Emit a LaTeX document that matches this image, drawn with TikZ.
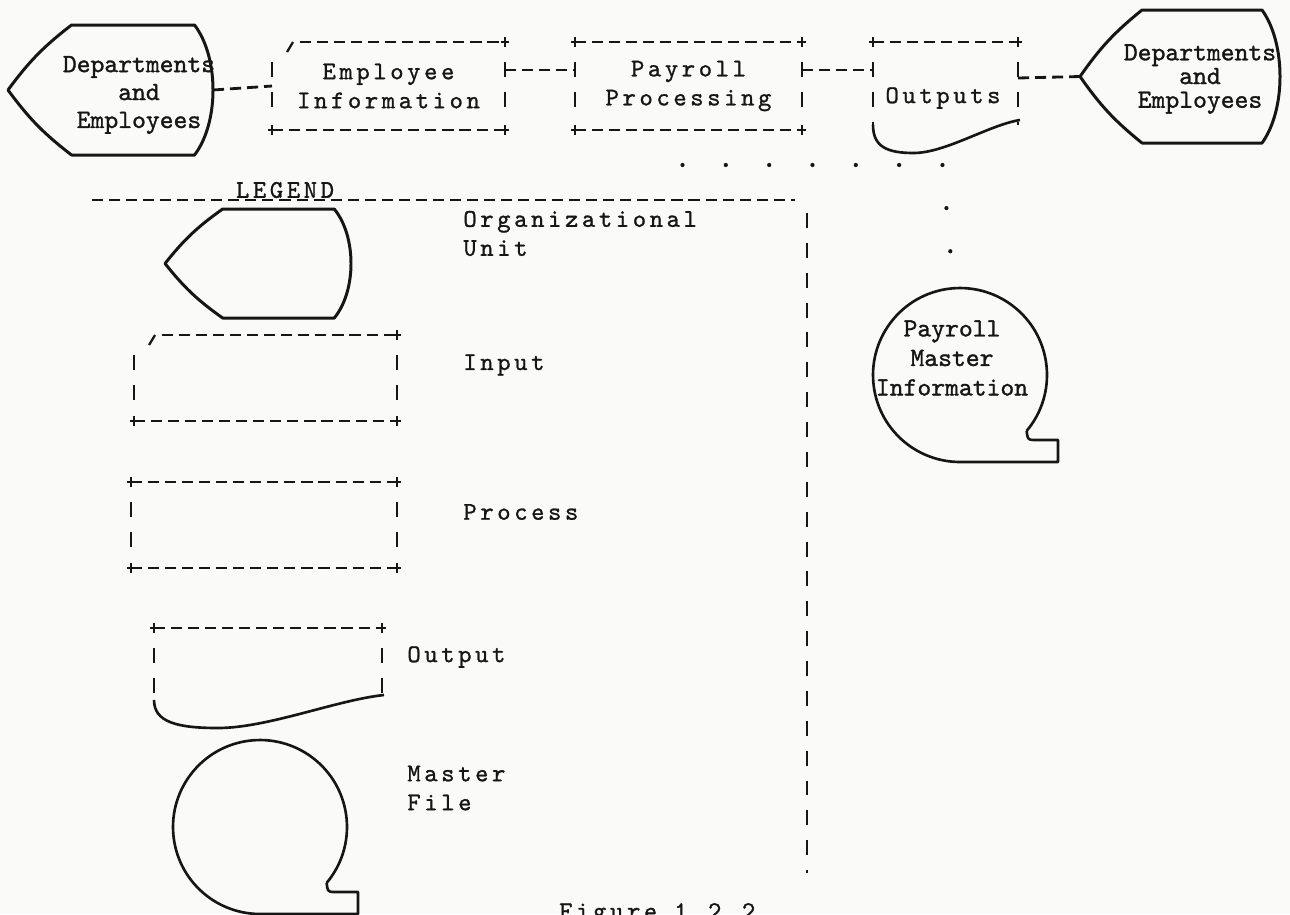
\documentclass[tikz,border=0pt]{standalone}
\usepackage{fontspec}
\usepackage{tikz}
\usetikzlibrary{calc}
\definecolor{ink}{RGB}{22,22,22}
\definecolor{paper}{RGB}{250,250,248}
\newfontfamily\boxface[LetterSpace=14, FakeBold=1]{lmmono10-regular.otf}
\newfontfamily\unitface[FakeBold=1.2]{lmmono10-regular.otf}
\newcommand\boxfont{\boxface\fontsize{14.5}{16.5}\selectfont}
\newcommand\unitfont[1]{\unitface\fontsize{15}{#1}\selectfont}
\tikzset{
    outline/.style = {ink, line width = 1.7pt, line join = round},
    hline/.style = {ink, line width = 1.6pt, dash pattern = on 6.3pt off 3.4pt},
    vline/.style = {ink, line width = 1.4pt, dash pattern = on 8.5pt off 8.5pt},
    dotline/.style = {ink, line width = 2.4pt, line cap = round, dash pattern = on 0pt off 0.8667cm},
    slot/.style = {inner sep = 0pt, outer sep = 0pt},
    boxtext/.style = {ink, font = \boxfont, align = center},
    legtext/.style = {boxtext, anchor = west, align = left, inner xsep = 0pt},
    unittext/.style = {ink, font = \unitfont{#1}, align = center},
    pics/plus/.style = {code = {\draw [ink, line width = 1.1pt] (-4, 0) -- (4, 0) (0, -5) -- (0, 5);}},
    pics/orgunit/.style 2 args = {code = {
        \draw [outline] (-0.38*#1, -#2) -- (0.82*#1, -#2)
            .. controls (1.06*#1, -0.5*#2) and (1.06*#1, 0.5*#2) .. (0.82*#1, #2)
            -- (-0.38*#1, #2) to [bend left = 8] (-#1, 0) to [bend left = 8] (-0.38*#1, -#2) -- cycle;
        \coordinate (-tip) at (-#1, 0);
        \coordinate (-east) at (#1, 0);
    }},
    pics/tape/.style = {code = {
        \draw [outline, line width = 1.5pt] (-40:1.74cm) arc [start angle = -40, end angle = 270, radius = 1.74cm]
            -- ++(98, 0) -- ++(0, -22) -- ++(-24, 0) .. controls +(-7, 0) and +(1, 7) .. (-40:1.74cm);
        \coordinate (-top) at (90:1.74cm);
    }},
}
\def\cardedge#1{%
    \draw [outline, line width = 1.3pt] ([shift={(15, 10)}]#1.north west) -- ([shift={(21, 0)}]#1.north west);
    \draw [hline] ([shift={(28, 0)}]#1.north west) -- (#1.north east)
        (#1.south west) -- (#1.south east);
    \draw [vline] ([shift={(0, 20)}]#1.north west) -- ([shift={(0, -12)}]#1.south west)
        ([shift={(0, 20)}]#1.north east) -- ([shift={(0, -12)}]#1.south east);
    \pic at (#1.north east) {plus};
    \pic at (#1.south west) {plus};
    \pic at (#1.south east) {plus};
}
\def\procedge#1{%
    \draw [hline] (#1.north west) -- (#1.north east)
        (#1.south west) -- (#1.south east);
    \draw [vline] ([shift={(0, 20)}]#1.north west) -- ([shift={(0, -12)}]#1.south west)
        ([shift={(0, 20)}]#1.north east) -- ([shift={(0, -12)}]#1.south east);
    \pic at (#1.north west) {plus};
    \pic at (#1.north east) {plus};
    \pic at (#1.south west) {plus};
    \pic at (#1.south east) {plus};
}
\def\docedge#1{%
    \draw [hline] (#1.north west) -- (#1.north east);
    \draw [vline] ([shift={(0, 20)}]#1.north west) -- (#1.south west)
        ([shift={(0, 20)}]#1.north east) -- (#1.south east);
    \draw [outline, line width = 1.5pt] (#1.south west)
        .. controls +(0, 22) and ($(#1.south west)!0.1!(#1.south east) + (0, 28)$)
        .. ($(#1.south west)!0.28!(#1.south east) + (0, 28)$)
        .. controls ($(#1.south west)!0.5!(#1.south east) + (0, 28)$) and ($(#1.south west)!0.8!(#1.south east)$)
        .. ([shift={(2, -5)}]#1.south east);
    \pic at (#1.north west) {plus};
    \pic at (#1.north east) {plus};
}

\begin{document}
\begin{tikzpicture}[x = 0.02cm, y = -0.02cm]
    \useasboundingbox (0, 0) rectangle (1290, 914);
    \fill [paper] (0, 0) rectangle (1290, 914);

    \pic (deptL) at (110.5, 90) {orgunit={102.5}{65}};
    \pic (deptR) at (1180, 76.5) {orgunit={100}{66.5}};
    \node [unittext = 15.9pt] (deptLtext) at (139, 95) {Departments\\and\\Employees};
    \node [unittext = 13.5pt] (deptRtext) at (1200, 79) {Departments\\and\\Employees};

    \node [boxtext, slot, minimum width = 4.66cm, minimum height = 1.76cm] (ein) at (388.5, 86) {Employee\\Information};
    \node [boxtext, slot, minimum width = 4.54cm, minimum height = 1.76cm] (pp) at (688.5, 86) {Payroll\\Processing};
    \node [slot, minimum width = 2.9cm, minimum height = 1.66cm] (outs) at (945.5, 83.5) {};
    \node [boxtext] (outstext) at (943, 98) {Outputs};
    \cardedge{ein}
    \procedge{pp}
    \docedge{outs}

    \pic (pmi) at (960, 375) {tape};
    \node [unittext = 16.8pt] (pmitext) at (952, 358) {Payroll\\Master\\Information};

    \draw [hline] (deptL-east) -- (ein.west);
    \draw [hline] ([shift={(0, -16)}]ein.east) -- ([shift={(0, -16)}]pp.west);
    \draw [hline] ([shift={(0, -16)}]pp.east) -- ([shift={(0, -13.5)}]outs.west);
    \draw [hline] ([shift={(0, -5.5)}]outs.east) -- (deptR-tip);
    \draw [dotline] ([shift={(-6, 35)}]pp.south) -- ++(260, 0) -- ([shift={(-8, -18)}]pmi-top);

    \node [boxtext] (legtitle) at (285, 190) {LEGEND};
    \draw [hline] (92, 200) -- (795, 200);
    \draw [vline] (807, 213) -- (807, 873);

    \pic (unitsym) at (258, 263.5) {orgunit={93}{54.5}};
    \node [slot, minimum width = 5.26cm, minimum height = 1.72cm] (inp) at (265.5, 378) {};
    \node [slot, minimum width = 5.32cm, minimum height = 1.72cm] (proc) at (264, 525) {};
    \node [slot, minimum width = 4.56cm, minimum height = 1.44cm] (outp) at (268, 664) {};
    \cardedge{inp}
    \procedge{proc}
    \docedge{outp}
    \pic (mfile) at (260, 827) {tape};

    \node [legtext] (unitlabel) at (463, 233.5) {Organizational\\Unit};
    \node [legtext] (inplabel) at (463, 365) {Input};
    \node [legtext] (proclabel) at (463, 512) {Process};
    \node [legtext] (outplabel) at (407, 657) {Output};
    \node [legtext] (mfilelabel) at (407, 788) {Master\\File};
    \node [boxtext, anchor = base west] (caption) at (553, 919) {Figure 1.2.2};
\end{tikzpicture}
\end{document}
